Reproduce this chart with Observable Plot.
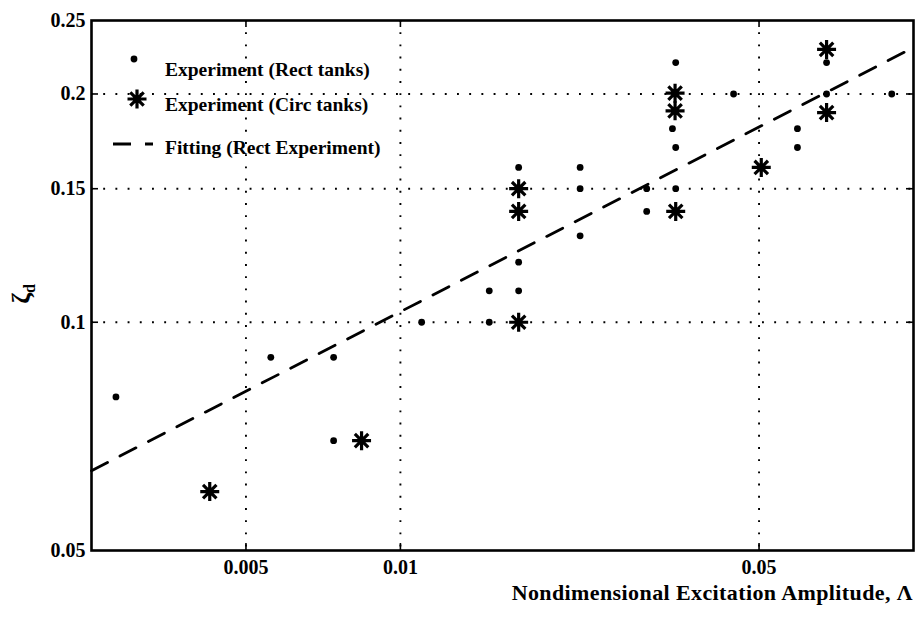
<!DOCTYPE html>
<html><head><meta charset="utf-8">
<script src="https://cdn.jsdelivr.net/npm/d3@7"></script>
<script src="https://cdn.jsdelivr.net/npm/@observablehq/plot@0.6"></script>
<style>body{margin:0;background:#fff} #chart{width:916px;height:620px}</style>
</head><body><div id="chart"></div>
<script>
// Experiment (Rect tanks)
const rectX = [0.00279, 0.00559, 0.00741, 0.00741, 0.0110, 0.0149, 0.0149, 0.0170, 0.0170, 0.0170,
               0.0224, 0.0224, 0.0224, 0.0302, 0.0302, 0.0344, 0.0339, 0.0344, 0.0344, 0.0446,
               0.0594, 0.0594, 0.0677, 0.0677, 0.0907];
const rectY = [0.0797, 0.0899, 0.0899, 0.0698, 0.100, 0.110, 0.100, 0.160, 0.120, 0.110,
               0.160, 0.150, 0.130, 0.150, 0.140, 0.220, 0.180, 0.170, 0.150, 0.200,
               0.180, 0.170, 0.220, 0.200, 0.200];
// Experiment (Circ tanks)
const circX = [0.00425, 0.0084, 0.0170, 0.0170, 0.0170, 0.0343, 0.0343, 0.0344, 0.0505, 0.0677, 0.0677];
const circY = [0.0598, 0.0698, 0.150, 0.140, 0.100, 0.2005, 0.190, 0.140, 0.160, 0.229, 0.189];
// Fitting (Rect Experiment) – end points
const fitX = [0.0025, 0.1];
const fitY = [0.0637, 0.2303];

const xTicks = [0.005, 0.01, 0.05];
const yTicks = [0.05, 0.1, 0.15, 0.2, 0.25];
const yGrid = [0.1, 0.15, 0.2];
const legendLabels = ["Experiment (Rect tanks)", "Experiment (Circ tanks)", "Fitting (Rect Experiment)"];
const xLabel = "Nondimensional Excitation Amplitude, \u039B";
const yLabelMain = "\u03B6", yLabelSub = "d";

const rect = rectX.map((x, i) => ({x, y: rectY[i]}));
const circ = circX.map((x, i) => ({x, y: circY[i]}));
const fit = fitX.map((x, i) => ({x, y: fitY[i]}));

const star = {
  draw(ctx, size) {
    const r = Math.sqrt(size / Math.PI);
    for (const a of [0, 45, 90, 135]) {
      const t = a * Math.PI / 180, dx = r * Math.cos(t), dy = r * Math.sin(t);
      ctx.moveTo(-dx, -dy); ctx.lineTo(dx, dy);
    }
  }
};

const FONT = "'Liberation Serif', 'Times New Roman', serif";
const W = 916, H = 620, mL = 91, mR = 3, mT = 20, mB = 70;
const fh = H - mT - mB, fw = W - mL - mR;
const gridStyle = {stroke: "black", strokeOpacity: 1, strokeWidth: 1.9, strokeDasharray: "1.9,10.3"};

const svg = Plot.plot({
  width: W, height: H, marginLeft: mL, marginRight: mR, marginTop: mT, marginBottom: mB,
  style: {fontFamily: FONT, fontSize: "20px", fontWeight: "bold", background: "white", color: "black", overflow: "visible"},
  x: {type: "log", domain: [0.0025, 0.1]},
  y: {type: "log", domain: [0.05, 0.25]},
  marks: [
    Plot.gridX(xTicks, gridStyle),
    Plot.gridY(yGrid, gridStyle),
    Plot.tickX(xTicks, {x: d => d, insetTop: fh - 7, stroke: "black", strokeWidth: 1.6}),
    Plot.tickX(xTicks, {x: d => d, insetBottom: fh - 7, stroke: "black", strokeWidth: 1.6}),
    Plot.tickY(yGrid, {y: d => d, insetRight: fw - 7, stroke: "black", strokeWidth: 1.6}),
    Plot.tickY(yGrid, {y: d => d, insetLeft: fw - 7, stroke: "black", strokeWidth: 1.6}),
    Plot.line(fit, {x: "x", y: "y", stroke: "black", strokeWidth: 2.8, strokeDasharray: "18,14"}),
    Plot.dot(rect, {x: "x", y: "y", r: 3.4, fill: "black"}),
    Plot.dot(circ, {x: "x", y: "y", r: 9.5, symbol: star, stroke: "black", strokeWidth: 3.2, fill: "none"}),
    Plot.frame({stroke: "black", strokeWidth: 2.6}),
    Plot.axisX(xTicks, {tickSize: 0, tickPadding: 9, tickFormat: d => String(d), label: null, fontSize: 20, fontWeight: "bold"}),
    Plot.axisY(yTicks, {tickSize: 0, tickPadding: 6, tickFormat: d => String(d), label: null, fontSize: 20, fontWeight: "bold"})
  ]
});
document.getElementById("chart").appendChild(svg);
const s = d3.select(svg);

// x-axis label
s.append("text").attr("x", 913).attr("y", 600).attr("text-anchor", "end").attr("fill", "black")
  .style("font-family", FONT).style("font-size", "22px").style("font-weight", "bold")
  .style("letter-spacing", "0.4px").text(xLabel);

// y-axis label ζ_d (rotated)
const yl = s.append("text")
  .attr("transform", "translate(30,294) rotate(-90)")
  .attr("text-anchor", "middle")
  .style("font-family", FONT).style("font-size", "26px").style("font-weight", "bold").attr("fill", "black");
yl.append("tspan").text(yLabelMain);
yl.append("tspan").attr("dy", 5).style("font-size", "16px").text(yLabelSub);

// legend inside the frame
const lg = s.append("g").style("font-family", FONT).style("font-size", "19.5px").style("font-weight", "bold")
  .attr("text-anchor", "start");
lg.append("circle").attr("cx", 134).attr("cy", 59).attr("r", 3.4).attr("fill", "black");
const p = d3.path(); star.draw(p, Math.PI * 9.5 * 9.5);
lg.append("path").attr("d", p.toString()).attr("transform", "translate(137,99)")
  .attr("stroke", "black").attr("stroke-width", 3.2).attr("fill", "none");
lg.append("line").attr("x1", 113).attr("x2", 153).attr("y1", 144).attr("y2", 144)
  .attr("stroke", "black").attr("stroke-width", 2.8).attr("stroke-dasharray", "18,14");
[76, 111, 154].forEach((yb, i) => {
  lg.append("text").attr("x", 165).attr("y", yb).attr("text-anchor", "start").attr("fill", "black").text(legendLabels[i]);
});
</script></body></html>
